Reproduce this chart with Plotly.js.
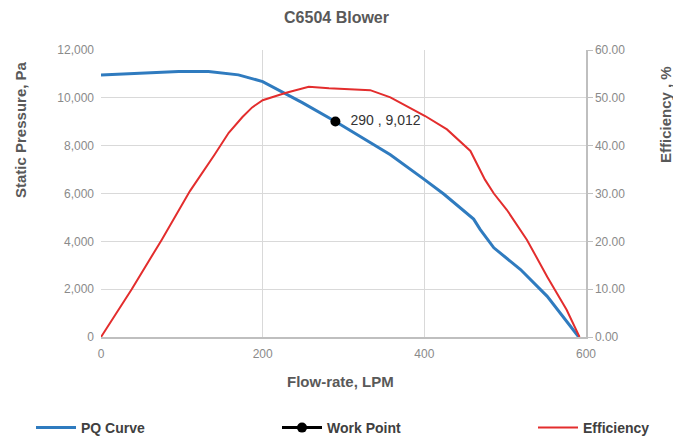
<!DOCTYPE html>
<html>
<head>
<meta charset="utf-8">
<script src="https://cdn.plot.ly/plotly-3.0.1.min.js"></script>
<style>html,body{margin:0;padding:0;background:#fff;}#chart{width:673px;height:439px;}</style>
</head>
<body>
<div id="chart"></div>
<script>
// PQ curve (Flow-rate LPM vs Static Pressure Pa)
const pqFlow = [0, 50, 96, 133, 170, 200, 224, 249, 290, 358, 399, 424, 461, 469, 486, 519, 552, 591];
const pqPressure = [10950, 11030, 11100, 11100, 10960, 10680, 10260, 9800, 9012, 7620, 6610, 5980, 4930, 4500, 3730, 2820, 1700, 0];

// Efficiency curve (Flow-rate LPM vs Efficiency %)
const effFlow = [0, 38, 75, 110, 140, 158, 175, 187, 200, 228, 257, 282, 333, 358, 401, 428, 457, 469, 475, 486, 502, 527, 552, 576, 592];
const effValue = [0, 10, 20.3, 30.5, 38, 42.7, 46, 48, 49.5, 51, 52.3, 52, 51.6, 50.1, 46.2, 43.4, 38.9, 34.7, 32.9, 30, 26.6, 20.3, 12.6, 5.7, 0];

// Work point
const wpFlow = [290];
const wpPressure = [9012];
const wpLabel = ["  290 , 9,012"];

const titleText = "C6504 Blower";
const xTitle = "Flow-rate, LPM";
const yTitle = "Static Pressure, Pa";
const y2Title = "Efficiency , %";

const tickFont = {family: "Liberation Sans, Arial, sans-serif", size: 12, color: "#8a8a8a"};
const titleFont = {family: "Liberation Sans, Arial, sans-serif", size: 15, color: "#595959", weight: "bold"};
const legendFont = {family: "Liberation Sans, Arial, sans-serif", size: 14, color: "#404040", weight: "bold"};

const traces = [
  {x: pqFlow, y: pqPressure, type: "scatter", mode: "lines", name: "PQ Curve", legend: "legend",
   line: {color: "#2f7bbf", width: 3}},
  {x: wpFlow, y: wpPressure, type: "scatter", mode: "lines+markers+text", name: "Work Point", legend: "legend2",
   text: wpLabel, textposition: "middle right",
   textfont: {family: "Liberation Sans, Arial, sans-serif", size: 14, color: "#333333"},
   marker: {color: "#000000", size: 10}, line: {color: "#000000", width: 3}},
  {x: effFlow, y: effValue, type: "scatter", mode: "lines", name: "Efficiency", yaxis: "y2", legend: "legend3",
   line: {color: "#e32d2d", width: 2}}
];

function legendAt(px) {
  return {orientation: "h", xref: "container", yref: "container",
          x: px / 673, y: 1 - 428 / 439, xanchor: "left", yanchor: "middle",
          itemwidth: 40, font: legendFont, bgcolor: "rgba(0,0,0,0)"};
}

const layout = {
  width: 673, height: 439,
  margin: {l: 101, r: 87, t: 50, b: 102},
  paper_bgcolor: "#ffffff", plot_bgcolor: "#ffffff",
  showlegend: true,
  title: {text: titleText, x: 0.5, xref: "container", xanchor: "center",
          y: 1 - 17/439, yref: "container", yanchor: "middle",
          font: {family: "Liberation Sans, Arial, sans-serif", size: 16, color: "#595959", weight: "bold"}},
  xaxis: {range: [0, 600], dtick: 200, tick0: 0, showgrid: true, gridcolor: "#d9d9d9", gridwidth: 1,
          zeroline: false, showline: true, linecolor: "#bfbfbf", linewidth: 1.5,
          ticks: "", tickfont: tickFont, ticklabelstandoff: 5, fixedrange: true},
  yaxis: {range: [0, 12000], dtick: 2000, tick0: 0, tickformat: ",", showgrid: true,
          gridcolor: "#d9d9d9", gridwidth: 1, zeroline: false, showline: false,
          ticks: "", tickfont: tickFont, ticklabelstandoff: 6},
  yaxis2: {range: [0, 60], dtick: 10, tick0: 0, tickformat: ".2f", overlaying: "y", side: "right",
           showgrid: false, zeroline: false, showline: true, linecolor: "#bfbfbf", linewidth: 1.5,
           ticks: "outside", ticklen: 5, tickcolor: "#bfbfbf", tickfont: tickFont},
  legend: legendAt(31),
  legend2: legendAt(277),
  legend3: legendAt(533),
  annotations: [
    {text: yTitle, xref: "paper", yref: "paper", x: (20 - 101) / 485, y: (337 - 130) / 287,
     xanchor: "center", yanchor: "middle", textangle: -90, showarrow: false, font: titleFont},
    {text: y2Title, xref: "paper", yref: "paper", x: (665 - 101) / 485, y: (337 - 115) / 287,
     xanchor: "center", yanchor: "middle", textangle: -90, showarrow: false, font: titleFont},
    {text: xTitle, xref: "paper", yref: "paper", x: (340 - 101) / 485, y: (337 - 381) / 287,
     xanchor: "center", yanchor: "middle", showarrow: false, font: titleFont}
  ]
};

Plotly.newPlot("chart", traces, layout, {staticPlot: true, displayModeBar: false});
</script>
</body>
</html>
